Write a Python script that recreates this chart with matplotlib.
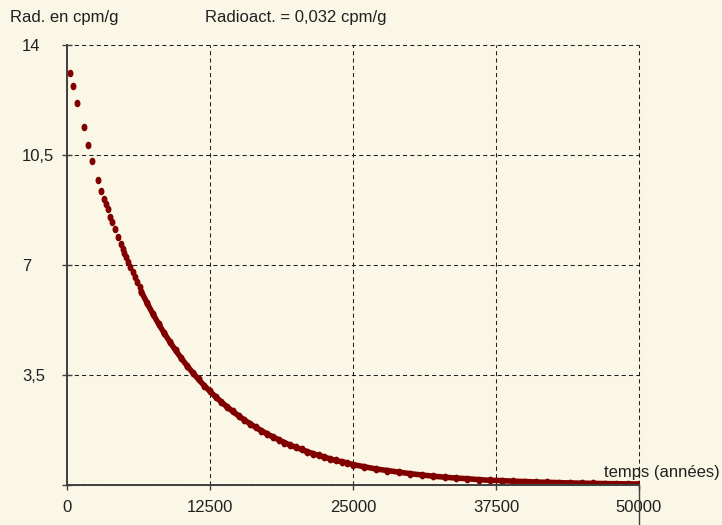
import numpy as np
import matplotlib
matplotlib.use("Agg")
import matplotlib.pyplot as plt
from matplotlib.path import Path

# values: time (années) and activity (cpm/g)
t_early = [236, 524, 917, 1459, 1835, 2210, 2735, 3014, 3259, 3407, 3556, 3783, 3931,
           4194, 4456, 4692, 4866, 5006, 5181, 5356, 5530, 5740, 5941, 6116, 6351]
rad_early = [13.12, 12.69, 12.16, 11.39, 10.81, 10.32, 9.70, 9.37, 9.11, 8.94, 8.78, 8.52, 8.37,
             8.15, 7.88, 7.67, 7.52, 7.37, 7.24, 7.10, 6.93, 6.77, 6.61, 6.47, 6.31]

t_band = [6500, 7000, 7500, 8000, 8500, 9000, 9500, 10000, 10500, 11000, 11500, 12000,
          12500, 13000, 13500, 14000, 14500, 15000, 15500, 16000, 16500, 17000, 17500,
          18000, 18500, 19000, 19500, 20000, 20500, 21000, 21500, 22000, 22500, 23000,
          23500, 24000, 24500, 25000, 26000, 27000, 28000, 29000, 30000, 31000, 32000,
          33000, 34000, 35000, 36000, 37000, 38000, 39000, 40000, 41000, 42000, 43000,
          44000, 45000, 46000, 47000, 48000, 49000, 50000]
rad_band = [6.15, 5.79, 5.45, 5.13, 4.83, 4.55, 4.28, 4.03, 3.79, 3.57, 3.36, 3.16,
            2.98, 2.80, 2.64, 2.48, 2.34, 2.20, 2.07, 1.95, 1.83, 1.73, 1.62,
            1.53, 1.44, 1.35, 1.27, 1.20, 1.13, 1.06, 1.00, 0.94, 0.89, 0.83,
            0.78, 0.74, 0.70, 0.65, 0.58, 0.51, 0.46, 0.41, 0.36, 0.32, 0.28,
            0.25, 0.22, 0.20, 0.17, 0.15, 0.14, 0.12, 0.11, 0.095, 0.085, 0.075,
            0.065, 0.058, 0.052, 0.045, 0.040, 0.036, 0.032]

x_ticks = [0, 12500, 25000, 37500, 50000]
x_labels = ["0", "12500", "25000", "37500", "50000"]
y_ticks = [0, 3.5, 7, 10.5, 14]
y_labels = ["", "3,5", "7", "10,5", "14"]

bg = "#faf7e6"
dot_color = "#800000"
axis_color = "#404040"

plt.rcParams["font.family"] = ["Liberation Sans", "DejaVu Sans"]
plt.rcParams["font.size"] = 12

W, H = 722, 525
fig = plt.figure(figsize=(W / 100, H / 100), dpi=100, facecolor=bg)
ax = fig.add_axes([67 / W, 40 / H, 572 / W, 440 / H], facecolor=bg)

# slightly tall oval dots like the original
theta = np.linspace(0, 2 * np.pi, 24)
oval = Path(np.column_stack([0.75 * np.cos(theta), np.sin(theta)]))

ax.plot(t_early, rad_early, linestyle="none", marker=oval, markersize=4.4,
        color=dot_color, zorder=3)
ax.plot(t_band, rad_band, color=dot_color, lw=4.0, solid_capstyle="round",
        marker=oval, markersize=4.6, zorder=3)

ax.set_xlim(0, 50000)
ax.set_ylim(0, 14)
ax.set_xticks(x_ticks)
ax.set_xticklabels(x_labels)
ax.set_yticks(y_ticks)
ax.set_yticklabels(y_labels, ha="left")

for side in ("top", "right"):
    ax.spines[side].set_visible(False)
for side in ("left", "bottom"):
    ax.spines[side].set_color(axis_color)
    ax.spines[side].set_linewidth(1.4)
    ax.spines[side].set_zorder(4)

ax.tick_params(axis="y", direction="inout", length=7.2, width=1, color=axis_color,
               pad=28.9, labelcolor="#202020")
ax.tick_params(axis="x", direction="out", length=3.6, width=1, color=axis_color,
               pad=7, labelcolor="#202020")

ax.grid(True, color="#202020", lw=0.75, linestyle=(0, (4, 3)))
for line in ax.get_xgridlines() + ax.get_ygridlines():
    line.set_clip_on(False)

# tick at 50000 runs through its label down to the bottom edge
ax.plot([50000, 50000], [0, -45 / 440], transform=ax.get_xaxis_transform(),
        color=axis_color, lw=1, clip_on=False)

fig.text(10 / W, 1 - 22 / H, "Rad. en cpm/g", ha="left", va="baseline", color="#202020")
fig.text(205 / W, 1 - 22 / H, "Radioact. = 0,032 cpm/g", ha="left", va="baseline",
         color="#202020")
fig.text(720 / W, 1 - 477 / H, "temps (années)", ha="right", va="baseline", color="#202020")

fig.savefig("out.png", dpi=100, facecolor=bg)
